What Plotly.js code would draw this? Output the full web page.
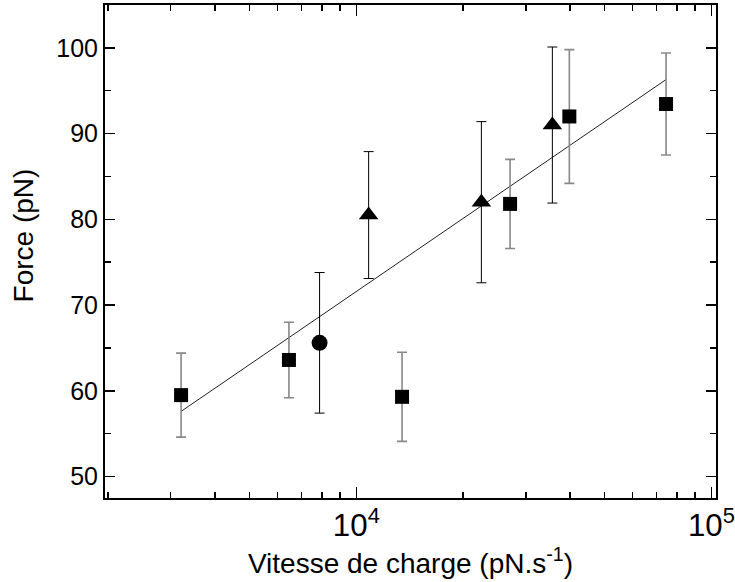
<!DOCTYPE html>
<html>
<head>
<meta charset="utf-8">
<script src="https://cdn.plot.ly/plotly-3.0.1.min.js"></script>
<style>html,body{margin:0;padding:0;background:#fff}#chart{width:735px;height:582px}</style>
</head>
<body>
<div id="chart"></div>
<script>
// Squares
const sqX = [3210, 6460, 13450, 27100, 39800, 74500];
const sqY = [59.5, 63.6, 59.3, 81.8, 92.0, 93.45];
const sqUp = [64.4, 68.0, 64.5, 87.0, 99.8, 99.4];
const sqLo = [54.6, 59.2, 54.1, 76.6, 84.2, 87.5];
// Triangles
const trX = [10830, 22500, 35650];
const trY = [80.5, 82.0, 91.0];
const trUp = [87.9, 91.4, 100.1];
const trLo = [73.1, 72.6, 81.9];
// Circle
const ciX = [7880];
const ciY = [65.6];
const ciUp = [73.8];
const ciLo = [57.4];
// Linear fit (in log x)
const fitX = [3210, 74500];
const fitY = [57.6, 96.3];

const xTitle = 'Vitesse de charge (pN.s<sup>-1</sup>)';
const yTitle = 'Force (pN)';

const plus = (up, y) => up.map((u, i) => +(u - y[i]).toFixed(3));
const minus = (lo, y) => lo.map((l, i) => +(y[i] - l).toFixed(3));

const traces = [
  {x: fitX, y: fitY, type: 'scatter', mode: 'lines', line: {color: '#222', width: 1}, hoverinfo: 'skip'},
  {x: sqX, y: sqY, type: 'scatter', mode: 'markers',
   marker: {symbol: 'square', size: 14, color: '#000'},
   error_y: {type: 'data', symmetric: false, array: plus(sqUp, sqY), arrayminus: minus(sqLo, sqY), color: '#888', thickness: 1.6, width: 5}},
  {x: trX, y: trY, type: 'scatter', mode: 'markers',
   marker: {symbol: 'triangle-up', size: 17, color: '#000'},
   error_y: {type: 'data', symmetric: false, array: plus(trUp, trY), arrayminus: minus(trLo, trY), color: '#000', thickness: 1, width: 5}},
  {x: ciX, y: ciY, type: 'scatter', mode: 'markers',
   marker: {symbol: 'circle', size: 16, color: '#000'},
   error_y: {type: 'data', symmetric: false, array: plus(ciUp, ciY), arrayminus: minus(ciLo, ciY), color: '#000', thickness: 1, width: 5}}
];

const font = {family: 'Arial, "Liberation Sans", sans-serif', color: '#000'};

const layout = {
  width: 735, height: 582,
  margin: {l: 105, r: 19, t: 5, b: 84},
  paper_bgcolor: '#fff', plot_bgcolor: '#fff',
  showlegend: false,
  font: font,
  xaxis: {
    type: 'log', range: [Math.log10(1960), Math.log10(103000)],
    dtick: 1, exponentformat: 'power',
    ticks: 'inside', ticklen: 11, tickwidth: 1.5, tickcolor: '#000',
    minor: {ticks: 'inside', ticklen: 6, tickwidth: 1.5, tickcolor: '#000', dtick: 'D1'},
    showline: true, linewidth: 2, linecolor: '#000', mirror: 'ticks',
    showgrid: false, zeroline: false,
    tickfont: {size: 25, family: font.family, color: '#000'},
    title: {text: xTitle, font: {size: 28, family: font.family, color: '#000'}, standoff: 6}
  },
  yaxis: {
    range: [47.5, 105], dtick: 10, tick0: 0,
    ticks: 'inside', ticklen: 10, tickwidth: 1.5, tickcolor: '#000',
    minor: {ticks: 'inside', ticklen: 6, tickwidth: 1.5, tickcolor: '#000', dtick: 5},
    showline: true, linewidth: 2, linecolor: '#000', mirror: 'ticks',
    showgrid: false, zeroline: false,
    tickfont: {size: 25, family: font.family, color: '#000'}
  },
  annotations: [{
    text: yTitle, textangle: -90, showarrow: false,
    xref: 'paper', yref: 'paper', x: -0.133, y: 0.532,
    xanchor: 'center', yanchor: 'middle',
    font: {size: 28, family: font.family, color: '#000'}
  }]
};

Plotly.newPlot('chart', traces, layout, {displayModeBar: false, staticPlot: true});
</script>
</body>
</html>
